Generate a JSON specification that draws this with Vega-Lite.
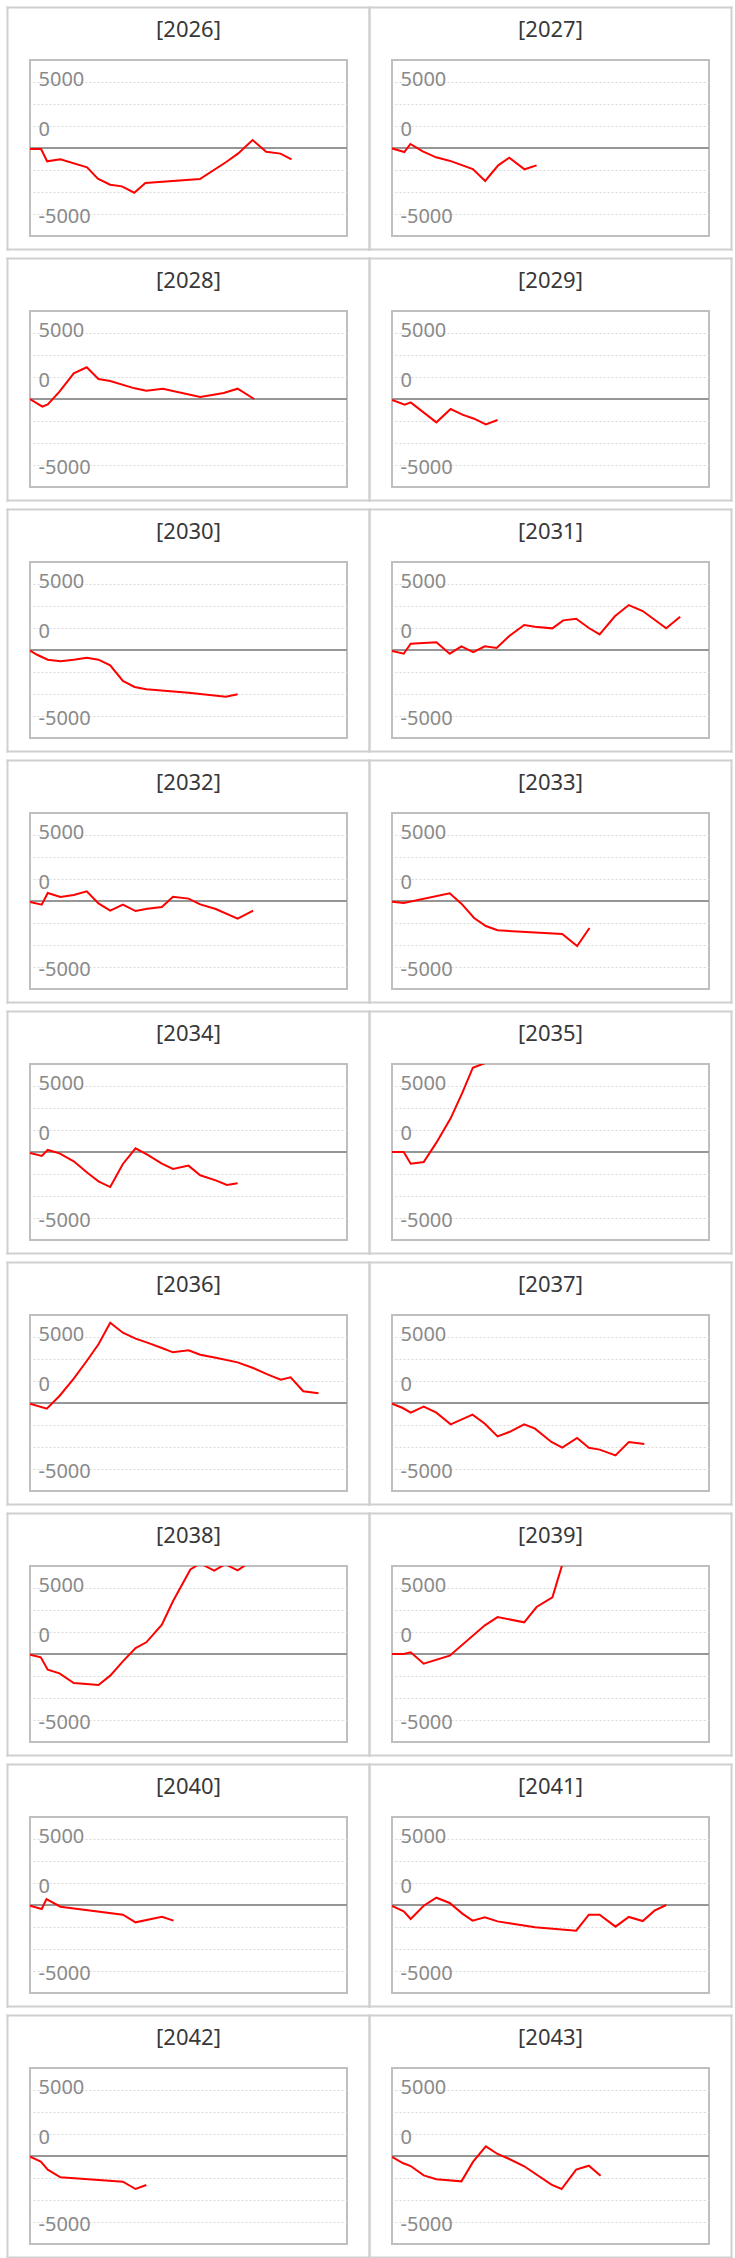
{
  "$schema": "https://vega.github.io/schema/vega-lite/v6.json",
  "padding": {"left": 4, "top": 4, "right": 0, "bottom": 0},
  "data": {
    "values": [
      {"year": "[2026]", "t": 0, "value": -100}, {"year": "[2026]", "t": 3.5, "value": -110}, {"year": "[2026]", "t": 5.4, "value": -1510}, {"year": "[2026]", "t": 9.6, "value": -1290}, {"year": "[2026]", "t": 18.0, "value": -2200}, {"year": "[2026]", "t": 21.4, "value": -3490}, {"year": "[2026]", "t": 25.3, "value": -4170}, {"year": "[2026]", "t": 29.0, "value": -4360}, {"year": "[2026]", "t": 32.9, "value": -5080}, {"year": "[2026]", "t": 36.4, "value": -3980}, {"year": "[2026]", "t": 53.6, "value": -3520}, {"year": "[2026]", "t": 61.9, "value": -1590}, {"year": "[2026]", "t": 65.7, "value": -610}, {"year": "[2026]", "t": 70.2, "value": 910}, {"year": "[2026]", "t": 74.5, "value": -420}, {"year": "[2026]", "t": 79.0, "value": -640}, {"year": "[2026]", "t": 82.5, "value": -1290},
      {"year": "[2027]", "t": 0, "value": -40}, {"year": "[2027]", "t": 3.9, "value": -460}, {"year": "[2027]", "t": 5.8, "value": 460}, {"year": "[2027]", "t": 9.7, "value": -380}, {"year": "[2027]", "t": 13.9, "value": -1060}, {"year": "[2027]", "t": 18.1, "value": -1440}, {"year": "[2027]", "t": 25.5, "value": -2390}, {"year": "[2027]", "t": 29.4, "value": -3750}, {"year": "[2027]", "t": 33.5, "value": -1970}, {"year": "[2027]", "t": 37.0, "value": -1100}, {"year": "[2027]", "t": 41.8, "value": -2420}, {"year": "[2027]", "t": 45.6, "value": -1970},
      {"year": "[2028]", "t": 0, "value": 0}, {"year": "[2028]", "t": 3.9, "value": -870}, {"year": "[2028]", "t": 5.6, "value": -610}, {"year": "[2028]", "t": 9.3, "value": 830}, {"year": "[2028]", "t": 13.8, "value": 2920}, {"year": "[2028]", "t": 17.9, "value": 3600}, {"year": "[2028]", "t": 21.6, "value": 2270}, {"year": "[2028]", "t": 25.3, "value": 2050}, {"year": "[2028]", "t": 33.0, "value": 1210}, {"year": "[2028]", "t": 36.7, "value": 950}, {"year": "[2028]", "t": 41.9, "value": 1170}, {"year": "[2028]", "t": 53.7, "value": 230}, {"year": "[2028]", "t": 61.1, "value": 680}, {"year": "[2028]", "t": 65.5, "value": 1170}, {"year": "[2028]", "t": 70.7, "value": 0},
      {"year": "[2029]", "t": 0, "value": -100}, {"year": "[2029]", "t": 4.0, "value": -640}, {"year": "[2029]", "t": 5.9, "value": -380}, {"year": "[2029]", "t": 14.0, "value": -2650}, {"year": "[2029]", "t": 18.5, "value": -1140}, {"year": "[2029]", "t": 22.2, "value": -1780}, {"year": "[2029]", "t": 25.9, "value": -2240}, {"year": "[2029]", "t": 29.6, "value": -2880}, {"year": "[2029]", "t": 33.3, "value": -2390},
      {"year": "[2030]", "t": 0, "value": -80}, {"year": "[2030]", "t": 2.4, "value": -570}, {"year": "[2030]", "t": 5.6, "value": -1100}, {"year": "[2030]", "t": 9.6, "value": -1290}, {"year": "[2030]", "t": 13.8, "value": -1100}, {"year": "[2030]", "t": 17.9, "value": -870}, {"year": "[2030]", "t": 21.6, "value": -1100}, {"year": "[2030]", "t": 25.3, "value": -1740}, {"year": "[2030]", "t": 29.3, "value": -3520}, {"year": "[2030]", "t": 33.0, "value": -4200}, {"year": "[2030]", "t": 36.7, "value": -4470}, {"year": "[2030]", "t": 50.0, "value": -4850}, {"year": "[2030]", "t": 61.8, "value": -5300}, {"year": "[2030]", "t": 65.5, "value": -5040},
      {"year": "[2031]", "t": 0, "value": -110}, {"year": "[2031]", "t": 3.7, "value": -420}, {"year": "[2031]", "t": 5.9, "value": 720}, {"year": "[2031]", "t": 14.0, "value": 870}, {"year": "[2031]", "t": 18.2, "value": -420}, {"year": "[2031]", "t": 21.9, "value": 420}, {"year": "[2031]", "t": 25.6, "value": -230}, {"year": "[2031]", "t": 29.3, "value": 420}, {"year": "[2031]", "t": 33.0, "value": 230}, {"year": "[2031]", "t": 37.0, "value": 1590}, {"year": "[2031]", "t": 41.7, "value": 2840}, {"year": "[2031]", "t": 45.1, "value": 2650}, {"year": "[2031]", "t": 50.6, "value": 2460}, {"year": "[2031]", "t": 54.0, "value": 3370}, {"year": "[2031]", "t": 58.1, "value": 3560}, {"year": "[2031]", "t": 62.1, "value": 2500}, {"year": "[2031]", "t": 65.5, "value": 1780}, {"year": "[2031]", "t": 70.3, "value": 3830}, {"year": "[2031]", "t": 74.7, "value": 5110}, {"year": "[2031]", "t": 79.1, "value": 4430}, {"year": "[2031]", "t": 86.5, "value": 2460}, {"year": "[2031]", "t": 90.9, "value": 3790},
      {"year": "[2032]", "t": 0, "value": -110}, {"year": "[2032]", "t": 3.7, "value": -420}, {"year": "[2032]", "t": 5.6, "value": 910}, {"year": "[2032]", "t": 9.6, "value": 450}, {"year": "[2032]", "t": 13.8, "value": 680}, {"year": "[2032]", "t": 17.9, "value": 1100}, {"year": "[2032]", "t": 21.6, "value": -270}, {"year": "[2032]", "t": 25.3, "value": -1100}, {"year": "[2032]", "t": 29.3, "value": -420}, {"year": "[2032]", "t": 33.3, "value": -1140}, {"year": "[2032]", "t": 37.0, "value": -870}, {"year": "[2032]", "t": 41.6, "value": -680}, {"year": "[2032]", "t": 45.1, "value": 490}, {"year": "[2032]", "t": 50.0, "value": 270}, {"year": "[2032]", "t": 53.7, "value": -380}, {"year": "[2032]", "t": 58.6, "value": -910}, {"year": "[2032]", "t": 65.5, "value": -2010}, {"year": "[2032]", "t": 70.4, "value": -1100},
      {"year": "[2033]", "t": 0, "value": -80}, {"year": "[2033]", "t": 3.7, "value": -230}, {"year": "[2033]", "t": 18.2, "value": 870}, {"year": "[2033]", "t": 21.9, "value": -300}, {"year": "[2033]", "t": 25.9, "value": -1930}, {"year": "[2033]", "t": 29.6, "value": -2840}, {"year": "[2033]", "t": 33.3, "value": -3330}, {"year": "[2033]", "t": 53.7, "value": -3750}, {"year": "[2033]", "t": 58.4, "value": -5110}, {"year": "[2033]", "t": 62.3, "value": -3070},
      {"year": "[2034]", "t": 0, "value": -110}, {"year": "[2034]", "t": 3.7, "value": -450}, {"year": "[2034]", "t": 5.6, "value": 230}, {"year": "[2034]", "t": 9.3, "value": -150}, {"year": "[2034]", "t": 13.8, "value": -1060}, {"year": "[2034]", "t": 18.2, "value": -2390}, {"year": "[2034]", "t": 21.6, "value": -3330}, {"year": "[2034]", "t": 25.3, "value": -3980}, {"year": "[2034]", "t": 29.3, "value": -1360}, {"year": "[2034]", "t": 33.3, "value": 420}, {"year": "[2034]", "t": 37.0, "value": -300}, {"year": "[2034]", "t": 41.6, "value": -1330}, {"year": "[2034]", "t": 45.1, "value": -1930}, {"year": "[2034]", "t": 50.0, "value": -1550}, {"year": "[2034]", "t": 53.7, "value": -2650}, {"year": "[2034]", "t": 58.6, "value": -3220}, {"year": "[2034]", "t": 62.1, "value": -3750}, {"year": "[2034]", "t": 65.5, "value": -3560},
      {"year": "[2035]", "t": 0, "value": 0}, {"year": "[2035]", "t": 3.7, "value": 0}, {"year": "[2035]", "t": 5.9, "value": -1330}, {"year": "[2035]", "t": 10.0, "value": -1140}, {"year": "[2035]", "t": 14.0, "value": 1060}, {"year": "[2035]", "t": 18.5, "value": 3830}, {"year": "[2035]", "t": 22.2, "value": 6740}, {"year": "[2035]", "t": 25.5, "value": 9580}, {"year": "[2035]", "t": 29.3, "value": 10100}, {"year": "[2035]", "t": 33.3, "value": 12000},
      {"year": "[2036]", "t": 0, "value": -80}, {"year": "[2036]", "t": 5.3, "value": -640}, {"year": "[2036]", "t": 9.3, "value": 800}, {"year": "[2036]", "t": 13.8, "value": 2770}, {"year": "[2036]", "t": 17.9, "value": 4770}, {"year": "[2036]", "t": 21.6, "value": 6670}, {"year": "[2036]", "t": 25.3, "value": 9130}, {"year": "[2036]", "t": 29.3, "value": 7990}, {"year": "[2036]", "t": 33.3, "value": 7310}, {"year": "[2036]", "t": 37.0, "value": 6860}, {"year": "[2036]", "t": 41.6, "value": 6250}, {"year": "[2036]", "t": 45.1, "value": 5760}, {"year": "[2036]", "t": 50.0, "value": 5980}, {"year": "[2036]", "t": 53.7, "value": 5490}, {"year": "[2036]", "t": 58.6, "value": 5150}, {"year": "[2036]", "t": 65.5, "value": 4620}, {"year": "[2036]", "t": 70.4, "value": 3980}, {"year": "[2036]", "t": 75.1, "value": 3220}, {"year": "[2036]", "t": 79.1, "value": 2650}, {"year": "[2036]", "t": 82.2, "value": 2920}, {"year": "[2036]", "t": 86.2, "value": 1330}, {"year": "[2036]", "t": 91.0, "value": 1100},
      {"year": "[2037]", "t": 0, "value": -80}, {"year": "[2037]", "t": 3.4, "value": -570}, {"year": "[2037]", "t": 5.9, "value": -1100}, {"year": "[2037]", "t": 10.0, "value": -420}, {"year": "[2037]", "t": 14.0, "value": -1100}, {"year": "[2037]", "t": 18.5, "value": -2420}, {"year": "[2037]", "t": 25.4, "value": -1330}, {"year": "[2037]", "t": 29.3, "value": -2350}, {"year": "[2037]", "t": 33.3, "value": -3790}, {"year": "[2037]", "t": 37.0, "value": -3300}, {"year": "[2037]", "t": 41.7, "value": -2420}, {"year": "[2037]", "t": 45.1, "value": -2920}, {"year": "[2037]", "t": 50.3, "value": -4430}, {"year": "[2037]", "t": 53.7, "value": -5080}, {"year": "[2037]", "t": 58.4, "value": -3980}, {"year": "[2037]", "t": 62.1, "value": -5080}, {"year": "[2037]", "t": 65.5, "value": -5300}, {"year": "[2037]", "t": 70.5, "value": -5950}, {"year": "[2037]", "t": 74.7, "value": -4430}, {"year": "[2037]", "t": 79.6, "value": -4660},
      {"year": "[2038]", "t": 0, "value": -80}, {"year": "[2038]", "t": 3.4, "value": -380}, {"year": "[2038]", "t": 5.6, "value": -1780}, {"year": "[2038]", "t": 9.3, "value": -2200}, {"year": "[2038]", "t": 13.8, "value": -3300}, {"year": "[2038]", "t": 21.6, "value": -3520}, {"year": "[2038]", "t": 25.3, "value": -2460}, {"year": "[2038]", "t": 29.3, "value": -830}, {"year": "[2038]", "t": 33.3, "value": 680}, {"year": "[2038]", "t": 36.7, "value": 1330}, {"year": "[2038]", "t": 41.6, "value": 3330}, {"year": "[2038]", "t": 45.1, "value": 6000}, {"year": "[2038]", "t": 50.6, "value": 9600}, {"year": "[2038]", "t": 53.7, "value": 10300}, {"year": "[2038]", "t": 58.1, "value": 9470}, {"year": "[2038]", "t": 61.6, "value": 10200}, {"year": "[2038]", "t": 65.5, "value": 9500}, {"year": "[2038]", "t": 70.0, "value": 10600},
      {"year": "[2039]", "t": 0, "value": 0}, {"year": "[2039]", "t": 3.7, "value": 0}, {"year": "[2039]", "t": 5.9, "value": 190}, {"year": "[2039]", "t": 10.0, "value": -1100}, {"year": "[2039]", "t": 18.2, "value": -190}, {"year": "[2039]", "t": 29.3, "value": 3260}, {"year": "[2039]", "t": 33.3, "value": 4200}, {"year": "[2039]", "t": 41.7, "value": 3600}, {"year": "[2039]", "t": 45.6, "value": 5340}, {"year": "[2039]", "t": 50.6, "value": 6440}, {"year": "[2039]", "t": 54.0, "value": 10500},
      {"year": "[2040]", "t": 0, "value": -80}, {"year": "[2040]", "t": 3.7, "value": -450}, {"year": "[2040]", "t": 5.2, "value": 680}, {"year": "[2040]", "t": 9.6, "value": -190}, {"year": "[2040]", "t": 29.3, "value": -1100}, {"year": "[2040]", "t": 33.3, "value": -1970}, {"year": "[2040]", "t": 41.6, "value": -1330}, {"year": "[2040]", "t": 45.3, "value": -1780},
      {"year": "[2041]", "t": 0, "value": -110}, {"year": "[2041]", "t": 3.7, "value": -720}, {"year": "[2041]", "t": 5.9, "value": -1590}, {"year": "[2041]", "t": 10.0, "value": -80}, {"year": "[2041]", "t": 14.0, "value": 830}, {"year": "[2041]", "t": 18.2, "value": 230}, {"year": "[2041]", "t": 22.2, "value": -980}, {"year": "[2041]", "t": 25.4, "value": -1780}, {"year": "[2041]", "t": 29.3, "value": -1400}, {"year": "[2041]", "t": 33.3, "value": -1860}, {"year": "[2041]", "t": 37.0, "value": -2080}, {"year": "[2041]", "t": 45.1, "value": -2540}, {"year": "[2041]", "t": 58.1, "value": -2920}, {"year": "[2041]", "t": 62.1, "value": -1100}, {"year": "[2041]", "t": 65.5, "value": -1100}, {"year": "[2041]", "t": 70.5, "value": -2460}, {"year": "[2041]", "t": 74.7, "value": -1360}, {"year": "[2041]", "t": 79.1, "value": -1820}, {"year": "[2041]", "t": 82.8, "value": -640}, {"year": "[2041]", "t": 86.5, "value": 0},
      {"year": "[2042]", "t": 0, "value": -80}, {"year": "[2042]", "t": 3.4, "value": -640}, {"year": "[2042]", "t": 5.6, "value": -1550}, {"year": "[2042]", "t": 9.6, "value": -2420}, {"year": "[2042]", "t": 29.3, "value": -2920}, {"year": "[2042]", "t": 33.3, "value": -3750}, {"year": "[2042]", "t": 36.7, "value": -3300},
      {"year": "[2043]", "t": 0, "value": -110}, {"year": "[2043]", "t": 3.4, "value": -800}, {"year": "[2043]", "t": 5.9, "value": -1140}, {"year": "[2043]", "t": 10.0, "value": -2200}, {"year": "[2043]", "t": 14.0, "value": -2650}, {"year": "[2043]", "t": 21.9, "value": -2880}, {"year": "[2043]", "t": 25.6, "value": -640}, {"year": "[2043]", "t": 29.6, "value": 1100}, {"year": "[2043]", "t": 33.3, "value": 230}, {"year": "[2043]", "t": 37.0, "value": -340}, {"year": "[2043]", "t": 41.7, "value": -1170}, {"year": "[2043]", "t": 50.3, "value": -3260}, {"year": "[2043]", "t": 53.5, "value": -3750}, {"year": "[2043]", "t": 58.1, "value": -1550}, {"year": "[2043]", "t": 62.1, "value": -1100}, {"year": "[2043]", "t": 65.8, "value": -2240}
    ]
  },
  "facet": {
    "field": "year",
    "type": "nominal",
    "title": null,
    "header": {
      "labelFont": "Noto Sans",
      "labelFontSize": 22,
      "labelColor": "#383838",
      "labelPadding": -36
    }
  },
  "columns": 2,
  "bounds": "flush",
  "spacing": {"row": 75, "column": 45},
  "resolve": {"axis": {"x": "independent", "y": "independent"}},
  "spec": {
    "width": 317,
    "height": 176,
    "layer": [
      {
        "transform": [{"aggregate": [{"op": "count", "as": "n"}], "groupby": ["year"]}],
        "mark": {"type": "rule", "color": "#969696", "strokeWidth": 2},
        "encoding": {
          "y": {
            "datum": 0,
            "type": "quantitative",
            "scale": {"domain": [-11500, 16000], "range": [189.2, -52.8], "nice": false, "zero": false},
            "axis": {
              "orient": "left",
              "offset": 23,
              "values": [-11500, 16000],
              "title": null,
              "labels": false,
              "grid": false,
              "domainColor": "#d0d0d0",
              "domainWidth": 2,
              "domainCap": "square",
              "ticks": true,
              "tickSize": -362,
              "tickColor": "#d0d0d0",
              "tickWidth": 2,
              "tickCap": "square",
              "minExtent": 0
            }
          }
        }
      },
      {
        "mark": {"type": "line", "color": "#ff0000", "strokeWidth": 2, "clip": true},
        "encoding": {
          "x": {
            "field": "t",
            "type": "quantitative",
            "scale": {"domain": [0, 100], "nice": false, "zero": false},
            "axis": null
          },
          "y": {
            "field": "value",
            "type": "quantitative",
            "axis": {
              "orient": "right",
              "offset": 22,
              "values": [-7500, -5000, -2500, 0, 2500, 5000, 7500],
              "title": null,
              "domainColor": "#d0d0d0",
              "domainWidth": 2,
              "domainCap": "square",
              "ticks": false,
              "grid": true,
              "gridColor": "#d9d9d9",
              "gridDash": [2, 2],
              "gridWidth": 1,
              "labelExpr": "datum.value % 5000 === 0 ? '' + datum.value : ''",
              "labelAlign": "left",
              "labelBaseline": "middle",
              "labelPadding": -331,
              "labelFont": "Noto Sans",
              "labelFontSize": 20,
              "labelColor": "#8a8a8a",
              "labelOverlap": false,
              "labelOffset": {"condition": [{"test": "datum.value > 0", "value": -25}, {"test": "datum.value < 0", "value": 24}], "value": -19},
              "minExtent": 0
            }
          }
        }
      }
    ],
    "resolve": {"axis": {"y": "independent"}}
  },
  "config": {
    "font": "Noto Sans",
    "view": {"stroke": "#bfbfbf", "strokeWidth": 2}
  }
}
